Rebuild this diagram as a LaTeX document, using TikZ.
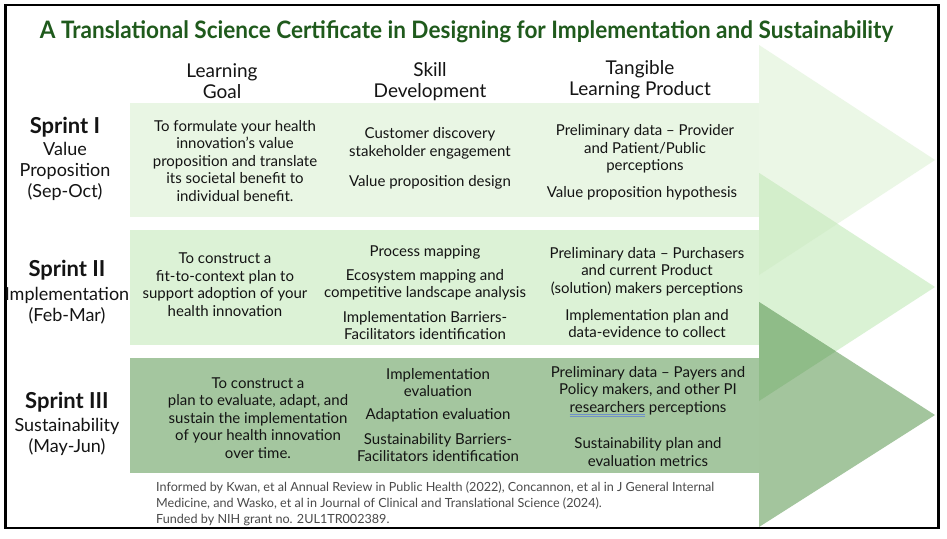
\documentclass[tikz,border=0pt]{standalone}
\usepackage{fontspec}
\setmainfont{Lato}
\definecolor{titlegreen}{HTML}{1F5A1C}
\definecolor{rowA}{HTML}{E9F6E4}
\definecolor{rowB}{HTML}{DCF2D6}
\definecolor{rowC}{HTML}{A4C69F}
\definecolor{triA}{HTML}{EBF7E6}
\definecolor{triB}{HTML}{DAF2D4}
\definecolor{triC}{HTML}{A3C59D}
\definecolor{ovAB}{HTML}{D3EECB}
\definecolor{ovBC}{HTML}{8FBC88}
\definecolor{txt}{HTML}{141414}
\definecolor{foot}{HTML}{4A4A4A}
\definecolor{squig}{HTML}{6F90C8}
\newcommand\squigword[1]{\setbox0\hbox{#1}\rlap{\color{squig}\rule[-2.6pt]{\wd0}{0.7pt}}\rlap{\color{squig}\rule[-4.4pt]{\wd0}{0.7pt}}\box0\relax}
\begin{document}
\begin{tikzpicture}[x=1pt,y=-1pt,
  cell/.style={align=center, font=\fontsize{15}{17.5}\selectfont, text=txt, inner sep=0pt},
  hdr/.style={align=center, font=\fontsize{19}{21}\selectfont, text=txt, inner sep=0pt},
  sprinttitle/.style={font=\fontsize{22}{26}\selectfont\bfseries, text=txt, inner sep=0pt},
  sprintsub/.style={align=center, font=\fontsize{18}{21}\selectfont, text=txt, inner sep=0pt},
  footnote/.style={align=left, font=\fontsize{12.6}{16}\selectfont, text=foot, inner sep=0pt, anchor=west}]
\useasboundingbox (0,0) rectangle (947,538);
\fill[white] (0,0) rectangle (947,538);
% row bands
\fill[rowA] (130,103) rectangle (759,217);
\fill[rowB] (130,230) rectangle (759,345);
\fill[rowC] (130,358) rectangle (759,473);
% arrow heads
\fill[triA] (759,45) -- (935,160) -- (759,275) -- cycle;
\fill[triB] (759,173) -- (935,287) -- (759,401) -- cycle;
\fill[triC] (759,302) -- (935,415) -- (759,527) -- cycle;
\begin{scope}
  \clip (759,45) -- (935,160) -- (759,275) -- cycle;
  \fill[ovAB] (759,173) -- (935,287) -- (759,401) -- cycle;
\end{scope}
\begin{scope}
  \clip (759,173) -- (935,287) -- (759,401) -- cycle;
  \fill[ovBC] (759,302) -- (935,415) -- (759,527) -- cycle;
\end{scope}
% frame
\draw[line width=2.5pt, black] (5.5,5) rectangle (938.5,528);
% title
\node[text=titlegreen, inner sep=0pt] (title) at (466.5,32)
  {\scalebox{0.94}[1]{\fontsize{24}{28}\selectfont\bfseries A Translational Science Certificate in Designing for Implementation and Sustainability}};
% headers
\node[hdr] (hgoal) at (222,81.5) {Learning\\Goal};
\node[hdr] (hskill) at (430,81.5) {Skill\\Development};
\node[hdr] (hprod) at (640,79.5) {Tangible\\Learning Product};
% Sprint I
\node[sprinttitle] (s1) at (65,127) {Sprint I};
\node[sprintsub] (s1sub) at (65,171) {Value\\Proposition\\(Sep-Oct)};
\node[cell] (g1) at (235,161) {To formulate your health\\innovation’s value\\proposition and translate\\its societal benefit to\\individual benefit.};
\node[cell] (k1a) at (430,143.5) {Customer discovery\\stakeholder engagement};
\node[cell] (k1b) at (430,182) {Value proposition design};
\node[cell] (p1a) at (645,149) {Preliminary data – Provider\\and Patient/Public\\perceptions};
\node[cell] (p1b) at (642,193) {Value proposition hypothesis};
% Sprint II
\node[sprinttitle] (s2) at (67,270) {Sprint II};
\node[sprintsub] (s2sub) at (67,305.5) {Implementation\\(Feb-Mar)};
\node[cell] (g2) at (225,284.5) {To construct a\\fit-to-context plan to\\support adoption of your\\health innovation};
\node[cell] (k2a) at (425,252) {Process mapping};
\node[cell] (k2b) at (425,285) {Ecosystem mapping and\\competitive landscape analysis};
\node[cell] (k2c) at (425,325.5) {Implementation Barriers-\\Facilitators identification};
\node[cell] (p2a) at (647,271.5) {Preliminary data – Purchasers\\and current Product\\(solution) makers perceptions};
\node[cell] (p2b) at (647,323.5) {Implementation plan and\\data-evidence to collect};
% Sprint III
\node[sprinttitle] (s3) at (67,402) {Sprint III};
\node[sprintsub] (s3sub) at (67,436.5) {Sustainability\\(May-Jun)};
\node[cell] (g3) at (258,418) {To construct a\\plan to evaluate, adapt, and\\sustain the implementation\\of your health innovation\\over time.};
\node[cell] (k3a) at (438,382.5) {Implementation\\evaluation};
\node[cell] (k3b) at (438,415) {Adaptation evaluation};
\node[cell] (k3c) at (438,447.5) {Sustainability Barriers-\\Facilitators identification};
\node[cell] (p3a) at (648,391.5) {Preliminary data – Payers and\\Policy makers, and other PI\\\squigword{researchers} perceptions};
\node[cell] (p3b) at (648,452) {Sustainability plan and\\evaluation metrics};
% footer
\node[footnote] (fn) at (156,504) {Informed by Kwan, et al Annual Review in Public Health (2022), Concannon, et al in J General Internal\\Medicine, and Wasko, et al in Journal of Clinical and Translational Science (2024).\\Funded by NIH grant no. 2UL1TR002389.};
\end{tikzpicture}
\end{document}
